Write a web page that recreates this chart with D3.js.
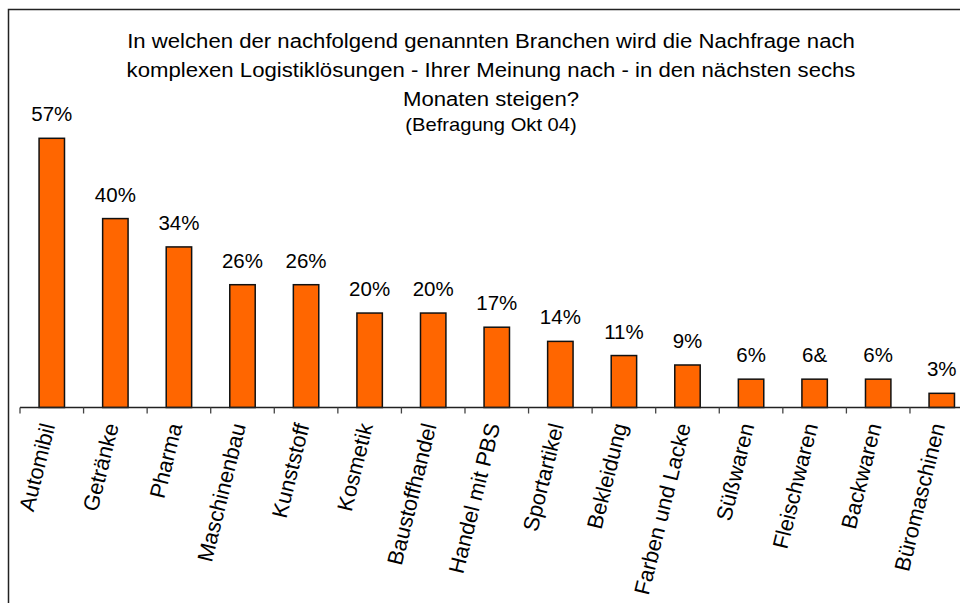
<!DOCTYPE html>
<html>
<head>
<meta charset="utf-8">
<script src="https://cdn.jsdelivr.net/npm/d3@7"></script>
<style>
  html, body { margin: 0; padding: 0; background: #fff; }
  svg { display: block; }
  text { font-family: "Liberation Sans", Arial, Helvetica, sans-serif; fill: #000; }
</style>
</head>
<body>
<script>
const categories = ["Automibil", "Getränke", "Pharma", "Maschinenbau", "Kunststoff", "Kosmetik", "Baustoffhandel", "Handel mit PBS", "Sportartikel", "Bekleidung", "Farben und Lacke", "Süßwaren", "Fleischwaren", "Backwaren", "Büromaschinen"];
const values = [57, 40, 34, 26, 26, 20, 20, 17, 14, 11, 9, 6, 6, 6, 3];
const valueLabels = ["57%", "40%", "34%", "26%", "26%", "20%", "20%", "17%", "14%", "11%", "9%", "6%", "6&", "6%", "3%"];
const titleLines = ["In welchen der nachfolgend genannten Branchen wird die Nachfrage nach", "komplexen Logistiklösungen - Ihrer Meinung nach - in den nächsten sechs", "Monaten steigen?"];
const subtitle = "(Befragung Okt 04)";

const W = 960, H = 603;
const svg = d3.select("body").append("svg").attr("width", W).attr("height", H);

// outer frame (extends past the window on right/bottom)
svg.append("rect").attr("x", 8.5).attr("y", 9.5).attr("width", 1000).attr("height", 700)
  .attr("fill", "#fff").attr("stroke", "#222").attr("stroke-width", 1.5);

const step = 63.57;
const x0 = 20;
const x = d3.scaleBand().domain(categories).range([x0, x0 + step * categories.length]).paddingInner(0.6).paddingOuter(0.3);
const baseY = 407.5;
const y = d3.scaleLinear().domain([0, 57]).range([baseY, 138.3]);

// title
const title = svg.append("g");
titleLines.forEach((t, i) => {
  title.append("text").attr("transform", `translate(491,${48 + i * 28.8}) scale(1.055,1)`)
    .attr("text-anchor", "middle").attr("font-size", 21).text(t);
});
title.append("text").attr("transform", "translate(491,131) scale(1.12,1)").attr("text-anchor", "middle")
  .attr("font-size", 18).text(subtitle);

// bars
svg.append("g").selectAll("rect").data(categories).join("rect")
  .attr("x", d => x(d)).attr("width", x.bandwidth())
  .attr("y", (d, i) => y(values[i])).attr("height", (d, i) => baseY - y(values[i]))
  .attr("fill", "#FF6600").attr("stroke", "#111").attr("stroke-width", 1.5);

// axis line and ticks at category boundaries
const bounds = d3.range(categories.length + 1).map(i => x0 + i * x.step());
const ax = svg.append("g");
ax.append("line").attr("x1", x0).attr("x2", 1000).attr("y1", baseY).attr("y2", baseY)
  .attr("stroke", "#222").attr("stroke-width", 1.3);
ax.selectAll("line.tick").data(bounds).join("line").attr("class", "tick")
  .attr("x1", d => d).attr("x2", d => d).attr("y1", baseY).attr("y2", baseY + 6)
  .attr("stroke", "#444").attr("stroke-width", 1.3);

// value labels
svg.append("g").selectAll("text").data(categories).join("text")
  .attr("x", d => x(d) + x.bandwidth() / 2)
  .attr("y", (d, i) => y(values[i]) - 17)
  .attr("text-anchor", "middle").attr("font-size", 20.5)
  .text((d, i) => valueLabels[i]);

// category labels (rotated)
svg.append("g").selectAll("text").data(categories).join("text")
  .attr("transform", d => `translate(${x(d) + x.bandwidth() / 2 + 3.5},${425.5}) rotate(-76)`)
  .attr("text-anchor", "end").attr("font-size", 21.8)
  .text(d => d);
</script>
</body>
</html>
